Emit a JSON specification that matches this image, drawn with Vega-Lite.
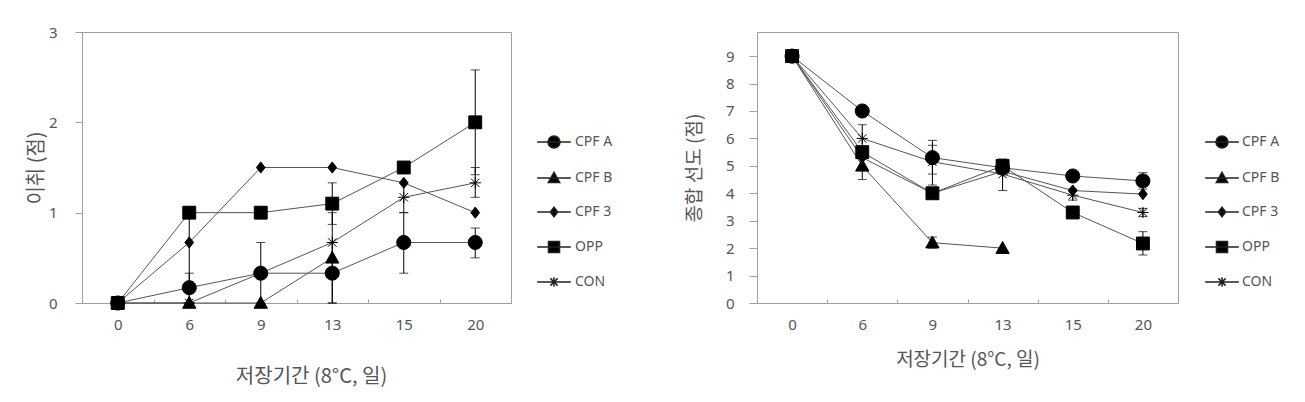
{
  "$schema": "https://vega.github.io/schema/vega-lite/v6.json",
  "background": "white",
  "padding": {"left": 25, "top": 24, "right": 5, "bottom": 5},
  "bounds": "flush",
  "spacing": 246,
  "config": {
    "view": {"stroke": "#a0a0a0", "strokeWidth": 1},
    "axis": {"grid": false, "domainColor": "#a0a0a0", "tickColor": "#a0a0a0", "labelColor": "#555555", "labelFont": "Noto Sans", "labelFontSize": 15, "titleFont": "Noto Sans CJK KR", "titleFontWeight": "normal", "titleColor": "#555555", "titleFontSize": 19},
    "legend": {"labelFont": "Noto Sans", "labelFontSize": 14, "labelColor": "#555555", "padding": 0}
  },
  "datasets": {
    "offflavor": [
      {"s": "CPF A", "d": 0, "v": 0},
      {"s": "CPF A", "d": 6, "v": 0.17, "lo": 0, "hi": 0.33},
      {"s": "CPF A", "d": 9, "v": 0.33, "lo": 0, "hi": 0.67},
      {"s": "CPF A", "d": 13, "v": 0.33, "lo": 0, "hi": 0.67},
      {"s": "CPF A", "d": 15, "v": 0.67, "lo": 0.33, "hi": 1.0},
      {"s": "CPF A", "d": 20, "v": 0.67, "lo": 0.5, "hi": 0.83},
      {"s": "CPF B", "d": 0, "v": 0},
      {"s": "CPF B", "d": 6, "v": 0},
      {"s": "CPF B", "d": 9, "v": 0},
      {"s": "CPF B", "d": 13, "v": 0.5, "lo": 0, "hi": 1.0},
      {"s": "CPF 3", "d": 0, "v": 0},
      {"s": "CPF 3", "d": 6, "v": 0.67},
      {"s": "CPF 3", "d": 9, "v": 1.5},
      {"s": "CPF 3", "d": 13, "v": 1.5},
      {"s": "CPF 3", "d": 15, "v": 1.33},
      {"s": "CPF 3", "d": 20, "v": 1.0},
      {"s": "OPP", "d": 0, "v": 0},
      {"s": "OPP", "d": 6, "v": 1.0, "lo": 0, "hi": 1.0},
      {"s": "OPP", "d": 9, "v": 1.0},
      {"s": "OPP", "d": 13, "v": 1.1, "lo": 0.87, "hi": 1.33},
      {"s": "OPP", "d": 15, "v": 1.5},
      {"s": "OPP", "d": 20, "v": 2.0, "lo": 1.42, "hi": 2.58},
      {"s": "CON", "d": 0, "v": 0},
      {"s": "CON", "d": 6, "v": 0},
      {"s": "CON", "d": 9, "v": 0.33},
      {"s": "CON", "d": 13, "v": 0.67},
      {"s": "CON", "d": 15, "v": 1.17, "lo": 1.0, "hi": 1.33},
      {"s": "CON", "d": 20, "v": 1.33, "lo": 1.17, "hi": 1.5}
    ],
    "quality": [
      {"s": "CPF A", "d": 0, "v": 9},
      {"s": "CPF A", "d": 6, "v": 7.0},
      {"s": "CPF A", "d": 9, "v": 5.3, "lo": 4.7, "hi": 5.93},
      {"s": "CPF A", "d": 13, "v": 4.93},
      {"s": "CPF A", "d": 15, "v": 4.63},
      {"s": "CPF A", "d": 20, "v": 4.45, "lo": 4.15, "hi": 4.75},
      {"s": "CPF B", "d": 0, "v": 9},
      {"s": "CPF B", "d": 6, "v": 5.0, "lo": 4.5, "hi": 5.5},
      {"s": "CPF B", "d": 9, "v": 2.2, "lo": 2.0, "hi": 2.4},
      {"s": "CPF B", "d": 13, "v": 2.0},
      {"s": "CPF 3", "d": 0, "v": 9},
      {"s": "CPF 3", "d": 6, "v": 5.3},
      {"s": "CPF 3", "d": 9, "v": 4.0},
      {"s": "CPF 3", "d": 13, "v": 4.8},
      {"s": "CPF 3", "d": 15, "v": 4.1},
      {"s": "CPF 3", "d": 20, "v": 3.97},
      {"s": "OPP", "d": 0, "v": 9},
      {"s": "OPP", "d": 6, "v": 5.5},
      {"s": "OPP", "d": 9, "v": 4.0},
      {"s": "OPP", "d": 13, "v": 5.0},
      {"s": "OPP", "d": 15, "v": 3.3},
      {"s": "OPP", "d": 20, "v": 2.17, "lo": 1.75, "hi": 2.6},
      {"s": "CON", "d": 0, "v": 9},
      {"s": "CON", "d": 6, "v": 6.0, "lo": 5.5, "hi": 6.5},
      {"s": "CON", "d": 9, "v": 5.15, "lo": 4.3, "hi": 5.75},
      {"s": "CON", "d": 13, "v": 4.7, "lo": 4.1, "hi": 5.25},
      {"s": "CON", "d": 15, "v": 3.93, "lo": 3.75, "hi": 4.15},
      {"s": "CON", "d": 20, "v": 3.3, "lo": 3.15, "hi": 3.45}
    ]
  },
  "hconcat": [
    {
      "width": 429,
      "height": 271,
      "data": {"name": "offflavor"},
      "encoding": {
        "x": {"field": "d", "type": "ordinal", "bandPosition": 0.5,
          "scale": {"type": "band", "domain": [0, 6, 9, 13, 15, 20], "paddingInner": 0, "paddingOuter": 0},
          "axis": {"title": "저장기간 (8°C, 일)", "labelAngle": 0, "tickBand": "extent", "tickSize": -4, "labelPadding": 18, "titlePadding": 34, "titleX": 229, "titleFontSize": 20}}
      },
      "layer": [
        {
          "mark": {"type": "line", "color": "#555555", "strokeWidth": 1},
          "encoding": {
            "y": {"field": "v", "type": "quantitative", "title": "이취 (점)", "scale": {"domain": [0, 3]}, "axis": {"values": [0, 1, 2, 3], "format": "d", "tickSize": 7, "labelPadding": 18, "titlePadding": 2, "titleFontSize": 20}},
            "detail": {"field": "s"}
          }
        },
        {
          "mark": {"type": "rule", "color": "#000000", "strokeWidth": 1},
          "encoding": {
            "y": {"field": "lo", "type": "quantitative", "title": "이취 (점)", "axis": {"values": [0, 1, 2, 3], "format": "d", "tickSize": 7, "labelPadding": 18, "titlePadding": 2, "titleFontSize": 20}},
            "y2": {"field": "hi"}
          }
        },
        {
          "mark": {"type": "tick", "orient": "horizontal", "size": 9, "thickness": 1, "color": "#000000"},
          "encoding": {"y": {"field": "lo", "type": "quantitative", "title": "이취 (점)", "axis": {"values": [0, 1, 2, 3], "format": "d", "tickSize": 7, "labelPadding": 18, "titlePadding": 2, "titleFontSize": 20}}}
        },
        {
          "mark": {"type": "tick", "orient": "horizontal", "size": 9, "thickness": 1, "color": "#000000"},
          "encoding": {"y": {"field": "hi", "type": "quantitative", "title": "이취 (점)", "axis": {"values": [0, 1, 2, 3], "format": "d", "tickSize": 7, "labelPadding": 18, "titlePadding": 2, "titleFontSize": 20}}}
        },
        {
          "mark": {"type": "point", "filled": true, "color": "#000000", "stroke": "#000000", "strokeWidth": 1, "opacity": 1, "size": 196},
          "encoding": {
            "y": {"field": "v", "type": "quantitative", "title": "이취 (점)", "axis": {"values": [0, 1, 2, 3], "format": "d", "tickSize": 7, "labelPadding": 18, "titlePadding": 2, "titleFontSize": 20}},
            "shape": {"field": "s", "type": "nominal", "legend": null,
              "scale": {"domain": ["CPF A", "CPF B", "CPF 3", "OPP", "CON"],
                "range": ["M1,0A1,1,0,1,1,-1,0A1,1,0,1,1,1,0Z", "M0,-0.95L0.95,0.75L-0.95,0.75Z", "M0,-0.8L0.62,0L0,0.8L-0.62,0Z", "M-0.92,-0.92H0.92V0.92H-0.92Z", "M-0.8,0H0.8M0,-0.8V0.8M-0.6,-0.6L0.6,0.6M-0.6,0.6L0.6,-0.6"]}}
          }
        },
        {
          "mark": {"type": "point", "filled": true, "color": "#000000", "stroke": "#222222", "strokeWidth": 1, "opacity": 0, "size": 144},
          "encoding": {
            "y": {"field": "v", "type": "quantitative", "title": "이취 (점)", "axis": {"values": [0, 1, 2, 3], "format": "d", "tickSize": 7, "labelPadding": 18, "titlePadding": 2, "titleFontSize": 20}},
            "shape": {"field": "s", "type": "nominal",
              "legend": {"title": null, "orient": "none", "legendX": 465, "legendY": 103, "symbolSize": 144, "rowPadding": 18, "labelOffset": 14,
                "encode": {"symbols": {"update": {"fill": {"value": "#000000"}, "stroke": {"value": "#222222"}, "strokeWidth": {"value": 1}, "opacity": {"value": 1}}}}},
              "scale": {"domain": ["CPF A", "CPF B", "CPF 3", "OPP", "CON"],
                "range": ["M-2.8,0H2.8M1,0A1,1,0,1,1,-1,0A1,1,0,1,1,1,0Z", "M-2.8,0H2.8M0,-0.95L0.95,0.75L-0.95,0.75Z", "M-2.8,0H2.8M0,-0.8L0.62,0L0,0.8L-0.62,0Z", "M-2.8,0H2.8M-0.92,-0.92H0.92V0.92H-0.92Z", "M-2.8,0H2.8M0,-0.8V0.8M-0.6,-0.6L0.6,0.6M-0.6,0.6L0.6,-0.6"]}}
          }
        }
      ],
      "resolve": {"scale": {"shape": "independent"}, "legend": {"shape": "independent"}}
    },
    {
      "width": 421,
      "height": 271,
      "data": {"name": "quality"},
      "encoding": {
        "x": {"field": "d", "type": "ordinal", "bandPosition": 0.5,
          "scale": {"type": "band", "domain": [0, 6, 9, 13, 15, 20], "paddingInner": 0, "paddingOuter": 0},
          "axis": {"title": "저장기간 (8°C, 일)", "labelAngle": 0, "tickBand": "extent", "tickSize": -4, "labelPadding": 18, "titlePadding": 18}}
      },
      "layer": [
        {
          "mark": {"type": "line", "color": "#555555", "strokeWidth": 1},
          "encoding": {
            "y": {"field": "v", "type": "quantitative", "title": "종합 선도 (점)", "scale": {"domain": [0, 9.88], "nice": false}, "axis": {"values": [0, 1, 2, 3, 4, 5, 6, 7, 8, 9], "tickSize": 8, "labelPadding": 15, "titlePadding": 21}},
            "detail": {"field": "s"}
          }
        },
        {
          "mark": {"type": "rule", "color": "#000000", "strokeWidth": 1},
          "encoding": {
            "y": {"field": "lo", "type": "quantitative", "title": "종합 선도 (점)", "axis": {"values": [0, 1, 2, 3, 4, 5, 6, 7, 8, 9], "tickSize": 8, "labelPadding": 15, "titlePadding": 21}},
            "y2": {"field": "hi"}
          }
        },
        {
          "mark": {"type": "tick", "orient": "horizontal", "size": 9, "thickness": 1, "color": "#000000"},
          "encoding": {"y": {"field": "lo", "type": "quantitative", "title": "종합 선도 (점)", "axis": {"values": [0, 1, 2, 3, 4, 5, 6, 7, 8, 9], "tickSize": 8, "labelPadding": 15, "titlePadding": 21}}}
        },
        {
          "mark": {"type": "tick", "orient": "horizontal", "size": 9, "thickness": 1, "color": "#000000"},
          "encoding": {"y": {"field": "hi", "type": "quantitative", "title": "종합 선도 (점)", "axis": {"values": [0, 1, 2, 3, 4, 5, 6, 7, 8, 9], "tickSize": 8, "labelPadding": 15, "titlePadding": 21}}}
        },
        {
          "mark": {"type": "point", "filled": true, "color": "#000000", "stroke": "#000000", "strokeWidth": 1, "opacity": 1, "size": 196},
          "encoding": {
            "y": {"field": "v", "type": "quantitative", "title": "종합 선도 (점)", "axis": {"values": [0, 1, 2, 3, 4, 5, 6, 7, 8, 9], "tickSize": 8, "labelPadding": 15, "titlePadding": 21}},
            "shape": {"field": "s", "type": "nominal", "legend": null,
              "scale": {"domain": ["CPF A", "CPF B", "CPF 3", "OPP", "CON"],
                "range": ["M1,0A1,1,0,1,1,-1,0A1,1,0,1,1,1,0Z", "M0,-0.95L0.95,0.75L-0.95,0.75Z", "M0,-0.8L0.62,0L0,0.8L-0.62,0Z", "M-0.92,-0.92H0.92V0.92H-0.92Z", "M-0.8,0H0.8M0,-0.8V0.8M-0.6,-0.6L0.6,0.6M-0.6,0.6L0.6,-0.6"]}}
          }
        },
        {
          "mark": {"type": "point", "filled": true, "color": "#000000", "stroke": "#222222", "strokeWidth": 1, "opacity": 0, "size": 144},
          "encoding": {
            "y": {"field": "v", "type": "quantitative", "title": "종합 선도 (점)", "axis": {"values": [0, 1, 2, 3, 4, 5, 6, 7, 8, 9], "tickSize": 8, "labelPadding": 15, "titlePadding": 21}},
            "shape": {"field": "s", "type": "nominal",
              "legend": {"title": null, "orient": "none", "legendX": 458, "legendY": 103, "symbolSize": 144, "rowPadding": 18, "labelOffset": 13,
                "encode": {"symbols": {"update": {"fill": {"value": "#000000"}, "stroke": {"value": "#222222"}, "strokeWidth": {"value": 1}, "opacity": {"value": 1}}}}},
              "scale": {"domain": ["CPF A", "CPF B", "CPF 3", "OPP", "CON"],
                "range": ["M-2.8,0H2.8M1,0A1,1,0,1,1,-1,0A1,1,0,1,1,1,0Z", "M-2.8,0H2.8M0,-0.95L0.95,0.75L-0.95,0.75Z", "M-2.8,0H2.8M0,-0.8L0.62,0L0,0.8L-0.62,0Z", "M-2.8,0H2.8M-0.92,-0.92H0.92V0.92H-0.92Z", "M-2.8,0H2.8M0,-0.8V0.8M-0.6,-0.6L0.6,0.6M-0.6,0.6L0.6,-0.6"]}}
          }
        }
      ],
      "resolve": {"scale": {"shape": "independent"}, "legend": {"shape": "independent"}}
    }
  ]
}
